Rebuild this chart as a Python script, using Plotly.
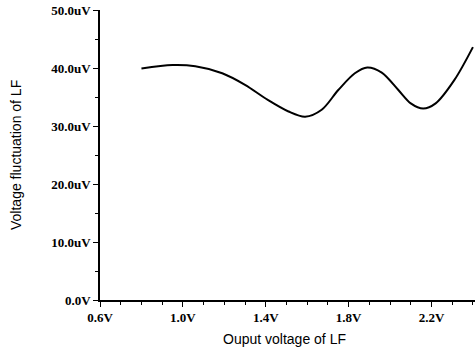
import plotly.graph_objects as go

voltage = [0.80, 0.95, 1.06, 1.19, 1.30, 1.41, 1.51, 1.59, 1.67, 1.75, 1.83, 1.89, 1.96, 2.04, 2.10, 2.16, 2.22, 2.31, 2.40]
fluct = [39.9, 40.5, 40.3, 39.1, 37.1, 34.5, 32.5, 31.6, 32.8, 36.2, 39.1, 40.1, 39.2, 36.2, 33.9, 33.0, 33.9, 37.9, 43.6]

x_tickvals = [0.6, 1.0, 1.4, 1.8, 2.2]
x_ticktext = ["0.6V", "1.0V", "1.4V", "1.8V", "2.2V"]
y_tickvals = [0, 10, 20, 30, 40, 50]
y_ticktext = ["0.0V", "10.0uV", "20.0uV", "30.0uV", "40.0uV", "50.0uV"]

tickfont = dict(family="Liberation Serif", size=13, color="black", weight="bold")

fig = go.Figure()
fig.add_trace(go.Scatter(
    x=voltage, y=fluct, mode="lines",
    line=dict(color="black", width=2, shape="spline", smoothing=0.9),
    cliponaxis=False, showlegend=False, hoverinfo="skip",
))

fig.update_layout(
    width=475, height=353,
    margin=dict(l=100, r=0, t=10, b=53),
    paper_bgcolor="white", plot_bgcolor="white",
    xaxis=dict(
        range=[0.6, 2.41], tickmode="array", tickvals=x_tickvals, ticktext=x_ticktext,
        showgrid=False, zeroline=False, showline=True, linecolor="black", linewidth=1.5,
        ticks="outside", ticklen=5, tickwidth=1.2, tickcolor="black",
        tickfont=tickfont,
        minor=dict(tickmode="linear", tick0=0.6, dtick=0.1, ticks="outside", ticklen=3, tickcolor="black", showgrid=False),
    ),
    yaxis=dict(
        range=[0, 50], tickmode="array", tickvals=y_tickvals, ticktext=y_ticktext,
        showgrid=False, zeroline=False, showline=True, linecolor="black", linewidth=1.5,
        ticks="outside", ticklen=5, tickwidth=1.2, tickcolor="black",
        tickfont=tickfont, ticklabeloverflow="allow",
        minor=dict(tickmode="linear", tick0=0, dtick=5, ticks="outside", ticklen=3, tickcolor="black", showgrid=False),
    ),
    annotations=[
        dict(text="Ouput voltage of LF", xref="paper", yref="paper", x=0.493, y=-0.1,
             xanchor="center", yanchor="top", showarrow=False,
             font=dict(family="Liberation Sans", size=14, color="black")),
        dict(text="Voltage fluctuation of LF", xref="paper", yref="paper", x=-0.224, y=0.5,
             xanchor="center", yanchor="middle", textangle=-90, showarrow=False,
             font=dict(family="Liberation Sans", size=14, color="black")),
    ],
)

fig.write_html("out.html", config={"displayModeBar": False},
               post_script="document.body.style.margin='0';")
